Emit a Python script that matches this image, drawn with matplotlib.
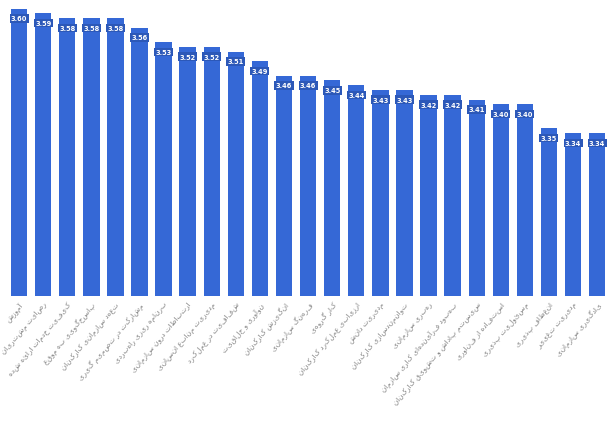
import matplotlib.pyplot as plt

# values (axis starts near 3.0)
values = [3.60, 3.59, 3.58, 3.58, 3.58, 3.56, 3.53, 3.52, 3.52, 3.51,
          3.49, 3.46, 3.46, 3.45, 3.44, 3.43, 3.43, 3.42, 3.42, 3.41,
          3.40, 3.40, 3.35, 3.34, 3.34]

labels = [
    "آموزش", "رضایت مشتریان", "کیفیت خدمات ارائه شده",
    "پاسخگویی به موقع", "تعهد سازمانی کارکنان", "مشارکت در تصمیم گیری",
    "برنامه ریزی راهبردی", "ارتباطات درون سازمانی", "مدیریت منابع انسانی",
    "شفافیت در عملکرد", "نوآوری و خلاقیت", "انگیزش کارکنان",
    "فرهنگ سازمانی", "کار گروهی", "ارزیابی عملکرد کارکنان",
    "مدیریت دانش", "توانمندسازی کارکنان", "رهبری سازمانی",
    "بهبود فرآیندهای کاری سازمان", "سیستم پاداش و تشویق کارکنان",
    "استفاده از فناوری", "مسئولیت پذیری", "انعطاف پذیری",
    "مدیریت تغییر", "یادگیری سازمانی",
]

fig = plt.figure(figsize=(6.11, 4.27), dpi=100)
ax = fig.add_axes([0.0115, 0.304, 0.9855, 0.696])

xs = list(range(len(values)))
ax.bar(xs, values, width=0.68, color="#3568d6")
ax.set_ylim(3.0, 3.62)
ax.set_xlim(-0.5, len(values) - 0.5)

for x, v in zip(xs, values):
    ax.text(x, v - 0.014, f"{v:.2f}", ha="center", va="top", fontsize=4.8,
            color="white", fontweight="bold",
            bbox=dict(boxstyle="square,pad=0.2", fc="#2c58b8", ec="none"))

ax.set_xticks(xs)
ax.set_xticklabels([l[::-1] for l in labels], rotation=50, ha="right",
                   rotation_mode="anchor", fontsize=5.2, color="#808080")
ax.tick_params(axis="x", length=0, pad=3)
ax.set_yticks([])
for s in ax.spines.values():
    s.set_visible(False)

fig.savefig("out.png", dpi=100)
